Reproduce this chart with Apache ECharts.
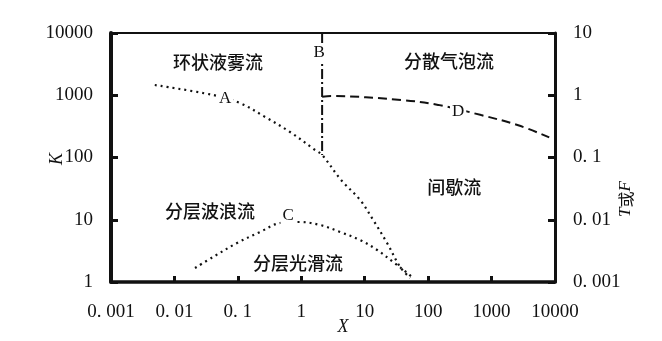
<!DOCTYPE html>
<html>
<head>
<meta charset="utf-8">
<script src="https://cdn.jsdelivr.net/npm/echarts@6/dist/echarts.min.js"></script>
<style>
  html, body { margin: 0; padding: 0; background: #fff; }
  #chart { width: 662px; height: 341px; }
</style>
</head>
<body>
<div id="chart"></div>
<script>
// Tick labels for each axis, indexed by decade exponent
const xTickLabels = ['0. 001', '0. 01', '0. 1', '1', '10', '100', '1000', '10000']; // 10^-3 .. 10^4
const kTickLabels = ['1', '10', '100', '1000', '10000'];                        // 10^0 .. 10^4
const tfTickLabels = ['0. 001', '0. 01', '0. 1', '1', '10'];                     // 10^-3 .. 10^1

// Curve A: F against X (right axis)
const curveA_X = [0.0049, 0.0406, 0.108, 0.269, 0.665, 1.65, 2.13, 4.24, 8.46, 13.6, 22.5, 36.2, 52];
const curveA_F = [1.46, 1.01, 0.75, 0.448, 0.257, 0.132, 0.110, 0.0435, 0.0208, 0.0099, 0.00424, 0.00174, 0.00116];

// Curve B: vertical boundary at constant X (left axis, K)
const curveB_X = [2.13, 2.13];
const curveB_K = [10000, 110];

// Curve C: K against X (left axis)
const curveC_X = [0.0211, 0.0406, 0.097, 0.224, 0.464, 0.957, 1.98, 4.09, 8.46, 15.7, 28.1, 46.7, 58];
const curveC_K = [1.68, 2.52, 4.23, 6.36, 8.87, 9.2, 8.24, 6.36, 4.73, 3.27, 2.09, 1.40, 1.16];

// Curve D: T against X (right axis)
const curveD_X = [2.13, 2.95, 37.5, 144, 686, 2630, 8110];
const curveD_T = [0.95, 0.97, 0.84, 0.70, 0.48, 0.33, 0.21];

// Curve letters, anchored in (X, K)
const curveNames = ['A', 'B', 'C', 'D'];
const curveNameX = [0.0628, 1.91, 0.62, 297];
const curveNameK = [870, 4770, 11.5, 538];

// Flow regime names, anchored in (X, K)
const regionNames = ['环状液雾流', '分散气泡流', '分层波浪流', '分层光滑流', '间歇流'];
const regionX = [0.0488, 214, 0.0365, 0.89, 257];
const regionK = [3420, 3550, 13.8, 2.02, 33.6];

const zip = (xs, ys) => xs.map((x, i) => [x, ys[i]]);
const exp10 = v => Math.round(Math.log10(v));

const ink = '#111';
const serif = '"Liberation Serif", "DejaVu Serif", serif';
const cjk = '"Noto Sans CJK SC", sans-serif';

const chart = echarts.init(document.getElementById('chart'));

const tickLabel = { color: ink, fontFamily: serif, fontSize: 19 };

chart.setOption({
  animation: false,
  backgroundColor: '#fff',
  grid: {
    left: 111, top: 33, right: 107, bottom: 59,
    show: true, borderColor: ink, borderWidth: 2,
    outerBoundsMode: 'none'
  },
  xAxis: [{
    type: 'log', logBase: 10, min: 0.001, max: 10000, interval: 1,
    axisLine: { show: true, lineStyle: { color: ink, width: 3.5 } },
    axisTick: { show: true, inside: true, length: 6, lineStyle: { color: ink, width: 3 } },
    axisLabel: Object.assign({ margin: 21, formatter: v => xTickLabels[exp10(v) + 3] }, tickLabel),
    splitLine: { show: false },
    minorTick: { show: false }
  }],
  yAxis: [{
    type: 'log', logBase: 10, min: 1, max: 10000, interval: 1, position: 'left',
    axisLine: { show: true, lineStyle: { color: ink, width: 4 } },
    axisTick: { show: true, inside: true, length: 7, lineStyle: { color: ink, width: 3 } },
    axisLabel: Object.assign({ margin: 18, formatter: v => kTickLabels[exp10(v)] }, tickLabel),
    splitLine: { show: false }
  }, {
    type: 'log', logBase: 10, min: 0.001, max: 10, interval: 1, position: 'right',
    axisLine: { show: true, lineStyle: { color: ink, width: 3 } },
    axisTick: { show: true, inside: true, length: 7, lineStyle: { color: ink, width: 3 } },
    axisLabel: Object.assign({ margin: 18, formatter: v => tfTickLabels[exp10(v) + 3] }, tickLabel),
    splitLine: { show: false }
  }],
  series: [
    {
      name: 'A', type: 'line', yAxisIndex: 1, smooth: 0.35, showSymbol: false, silent: true,
      data: zip(curveA_X, curveA_F),
      lineStyle: { color: ink, width: 2.2, type: [2, 4] }
    },
    {
      name: 'B', type: 'line', yAxisIndex: 0, showSymbol: false, silent: true,
      data: zip(curveB_X, curveB_K),
      lineStyle: { color: ink, width: 2, type: [10, 3, 2, 3] }
    },
    {
      name: 'C', type: 'line', yAxisIndex: 0, smooth: 0.35, showSymbol: false, silent: true,
      data: zip(curveC_X, curveC_K),
      lineStyle: { color: ink, width: 2.2, type: [2, 4] }
    },
    {
      name: 'D', type: 'line', yAxisIndex: 1, smooth: 0.35, showSymbol: false, silent: true,
      data: zip(curveD_X, curveD_T),
      lineStyle: { color: ink, width: 2, type: [9, 5] }
    },
    {
      name: 'curve letters', type: 'scatter', yAxisIndex: 0, symbolSize: 0, z: 5, silent: true,
      itemStyle: { opacity: 1 },
      data: curveNames.map((n, i) => ({ name: n, value: [curveNameX[i], curveNameK[i]] })),
      label: {
        show: true, position: 'inside', formatter: p => p.name,
        color: ink, fontFamily: serif, fontSize: 17,
        backgroundColor: '#fff', padding: [0, 2]
      }
    },
    {
      name: 'regimes', type: 'scatter', yAxisIndex: 0, symbolSize: 0, z: 5, silent: true,
      itemStyle: { opacity: 1 },
      data: regionNames.map((n, i) => ({ name: n, value: [regionX[i], regionK[i]] })),
      label: {
        show: true, position: 'inside', formatter: p => p.name,
        color: ink, fontFamily: cjk, fontSize: 18, fontWeight: 500
      }
    }
  ],
  graphic: [
    {
      type: 'text', x: 57, y: 159, rotation: Math.PI / 2,
      style: { text: 'K', font: 'italic 18px ' + serif, fill: ink, align: 'center', verticalAlign: 'middle' }
    },
    {
      type: 'text', x: 343, y: 327,
      style: { text: 'X', font: 'italic 18px ' + serif, fill: ink, align: 'center', verticalAlign: 'middle' }
    },
    {
      type: 'text', x: 626, y: 199, rotation: Math.PI / 2,
      style: {
        text: '{i|T}或{i|F}', fill: ink, align: 'center', verticalAlign: 'middle',
        fontFamily: cjk, fontSize: 16,
        rich: { i: { fontFamily: serif, fontStyle: 'italic', fontSize: 17, fill: ink } }
      }
    }
  ]
});
</script>
</body>
</html>
